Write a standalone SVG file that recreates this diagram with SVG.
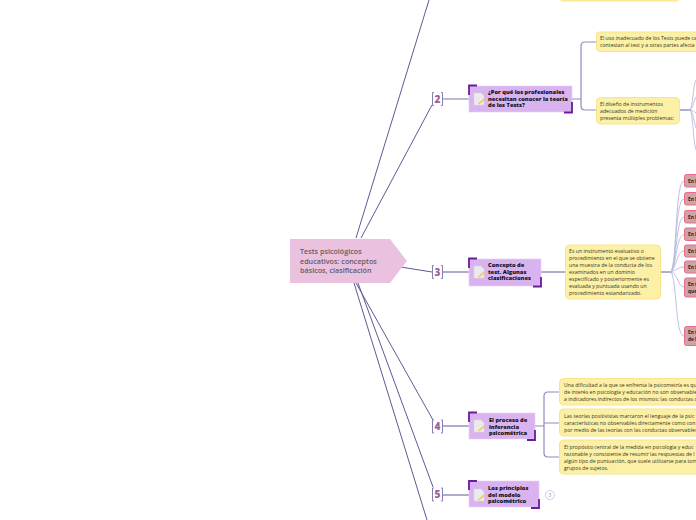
<svg xmlns="http://www.w3.org/2000/svg" width="696" height="520" viewBox="0 0 696 520">
<defs>
<g id="ic"><path d="M0 0H7L10 3V12H0Z" fill="#ece9ec" stroke="#dcd8dc" stroke-width=".5"/><path d="M4 10.500L10 5.500L11 6.500L5 11.500Z" fill="#f2c84a"/></g>
</defs>
<style>
text{font-family:"Open Sans","Noto Sans",sans-serif;white-space:pre}
.n{font-size:5.200px;font-weight:500;fill:#3a3622}
.b{font-size:5.700px;font-weight:800;fill:#111}
.t{fill:#d9b3f0;stroke:#e6cdf6;stroke-width:.6}
.k{fill:none;stroke:#6a1b9a;stroke-width:1.800}
.y{fill:#fbf0a6;stroke:#f8e48c;stroke-width:1}
.p{fill:#cfa3a3;stroke:#e8688c;stroke-width:1}
.pt{font-size:4.800px;font-weight:700;fill:#2a1a1a}
.m{fill:none;stroke:#5d5a96;stroke-width:1}
.c{fill:none;stroke:#8d8bbd;stroke-width:1.200}
.f{fill:none;stroke:#b9b9dc;stroke-width:.9}
.br{fill:none;stroke:#857fae;stroke-width:1}
.num{font-size:10px;font-weight:800;fill:#a0609c;text-anchor:middle}
</style>
<g id="connectors">
<path class="m" d="M356 238L429 0M361 238L432 105M369 262L432 272M356 283L433 420M358 283L433 487M354 283L427 520"/>
<path class="c" d="M443 99H469"/>
<path class="m" d="M443 272H469M443 426H469M442 495H469"/>
<path class="c" d="M572 99H581M596 42H585Q581 42 581 46V106Q581 110 585 110H596"/>
<path class="m" stroke-width="1.300" d="M541 272H565"/>
<path class="c" d="M535 426H544M559 392H548Q544 392 544 396V453Q544 457 548 457H559M544 423H559"/>
<path class="m" stroke-width="1.300" d="M660 272H671M680 110H690"/>
<path class="f" d="M671 272C677 262 675 181 684 181M671 272C677 262 675 199 684 199M671 272C677 262 676 217 684 217M671 272C677 264 676 235 684 235M671 272C677 266 677 251 684 251M671 272C677 270 678 267 684 267M671 272C678 274 678 287 684 287M671 272C677 280 675 336 684 336"/>
<path class="f" d="M690 110C693 106 693 85 696 80M690 110C693 108 694 100 696 97M690 110C693 110 694 112 696 113M690 110C693 112 694 122 696 128M690 110C693 114 693 140 696 150"/>
<path class="br" d="M550 495H546"/>
</g>
<g id="root"><polygon points="290,239 390,239 407,261 390,283 290,283" fill="#eac2e0"/>
<text x="300" y="254" font-size="7.200" font-weight="600" fill="#665a62">Tests psicológicos</text>
<text x="300" y="263.500" font-size="7.200" font-weight="600" fill="#665a62">educativos: conceptos</text>
<text x="300" y="273" font-size="7.200" font-weight="600" fill="#665a62">básicos, clasificación</text></g>
<g id="num2"><path class="br" d="M434 92.500H432.500V105.500H434M441 92.500H442.500V105.500H441"/><text class="num" x="437.500" y="102.500">2</text></g>
<g id="num3"><path class="br" d="M434 265.500H432.500V278.500H434M441 265.500H442.500V278.500H441"/><text class="num" x="437.500" y="275.500">3</text></g>
<g id="num4"><path class="br" d="M434 420H432.500V433H434M441 420H442.500V433H441"/><text class="num" x="437.500" y="430">4</text></g>
<g id="num5"><path class="br" d="M434 488H432.500V501H434M441 488H442.500V501H441"/><text class="num" x="437.500" y="498">5</text></g>
<g id="node2"><rect class="t" x="469" y="86" width="103" height="26"/><path class="k" d="M469 95V85.500H477M572 102V112.500H564"/><use href="#ic" x="474" y="93"/>
<text class="b" x="488" y="94">¿Por qué los profesionales</text><text class="b" x="488" y="100.500">necesitan conocer la teoría</text><text class="b" x="488" y="107">de los Tests?</text></g>
<g id="node3"><rect class="t" x="469" y="259" width="72" height="27"/><path class="k" d="M469 268V258.500H477M541 277V286.500H533"/><use href="#ic" x="474" y="266"/>
<text class="b" x="488" y="267">Concepto de</text><text class="b" x="488" y="273.500">test. Algunas</text><text class="b" x="488" y="280">clasificaciones</text></g>
<g id="node4"><rect class="t" x="469" y="413" width="66" height="26"/><path class="k" d="M469 422V412.500H477M535 430V440H527"/><use href="#ic" x="474" y="420"/>
<text class="b" x="489" y="422">El proceso de</text><text class="b" x="489" y="428.500">inferencia</text><text class="b" x="489" y="435">psicométrica</text></g>
<g id="node5"><rect class="t" x="469" y="481" width="70" height="26"/><path class="k" d="M469 490V481H477M539 499V508H531"/><use href="#ic" x="474" y="489"/>
<text class="b" x="488" y="490">Los principios</text><text class="b" x="488" y="496.500">del modelo</text><text class="b" x="488" y="503">psicométrico</text></g>
<g id="collapse"><circle cx="550" cy="495" r="4.500" fill="#fff" stroke="#c3c3e0" stroke-width=".8"/><text x="550" y="497" font-size="5" text-anchor="middle" fill="#8d8bbd">3</text></g>
<g id="noteTop"><rect class="y" x="560" y="-20" width="119" height="21" rx="3"/></g>
<g id="note2a"><rect class="y" x="596.500" y="32" width="120" height="19.500" rx="3"/>
<text class="n" x="600" y="39.500">El uso inadecuado de los Tests puede ca</text><text class="n" x="600" y="46.500">contestan al test y a otras partes afecta</text></g>
<g id="note2b"><rect class="y" x="596.500" y="97.500" width="83" height="26.500" rx="4"/>
<text class="n" x="600" y="105.500">El diseño de instrumentos</text><text class="n" x="600" y="112.500">adecuados de medición</text><text class="n" x="600" y="119.500">presenta múltiples problemas:</text></g>
<g id="note3"><rect class="y" x="565.500" y="245" width="95" height="54" rx="4"/>
<text class="n" x="569" y="253">Es un instrumento evaluativo o</text><text class="n" x="569" y="260">procedimiento en el que se obtiene</text><text class="n" x="569" y="267">una muestra de la conducta de los</text><text class="n" x="569" y="274">examinados en un dominio</text><text class="n" x="569" y="281">especificado y posteriormente es</text><text class="n" x="569" y="288">evaluada y puntuada usando un</text><text class="n" x="569" y="295">procedimiento estandarizado.</text></g>
<g id="note4a"><rect class="y" x="559.500" y="378.500" width="160" height="26.500" rx="4"/>
<text class="n" x="564" y="387">Una dificultad a la que se enfrenta la psicometría es qu</text><text class="n" x="564" y="394">de interés en psicología y educación no son observable</text><text class="n" x="564" y="401">a indicadores indirectos de los mismos: las conductas o</text></g>
<g id="note4b"><rect class="y" x="559.500" y="409" width="160" height="27" rx="4"/>
<text class="n" x="564" y="417.500">Las teorías positivistas marcaron el lenguaje de la psic</text><text class="n" x="564" y="424.500">características no observables directamente como con</text><text class="n" x="564" y="431.500">por medio de las teorías con las conductas observables</text></g>
<g id="note4c"><rect class="y" x="559.500" y="440" width="160" height="34" rx="4"/>
<text class="n" x="564" y="448.500">El propósito central de la medida en psicología y educ</text><text class="n" x="564" y="455.500">razonable y consistente de resumir las respuestas de l</text><text class="n" x="564" y="462.500">algún tipo de puntuación, que suele utilizarse para tom</text><text class="n" x="564" y="469.500">grupos de sujetos.</text></g>
<g id="pink1"><rect class="p" x="684.500" y="174.500" width="30" height="12.500" rx="2"/><text class="pt" x="688" y="182.500">En B</text></g>
<g id="pink2"><rect class="p" x="684.500" y="192.500" width="30" height="12.500" rx="2"/><text class="pt" x="688" y="200.500">En B</text></g>
<g id="pink3"><rect class="p" x="684.500" y="210.500" width="30" height="12.500" rx="2"/><text class="pt" x="688" y="218.500">En B</text></g>
<g id="pink4"><rect class="p" x="684.500" y="228" width="30" height="12.500" rx="2"/><text class="pt" x="688" y="236">En B</text></g>
<g id="pink5"><rect class="p" x="684.500" y="245" width="30" height="12" rx="2"/><text class="pt" x="688" y="252.500">En B</text></g>
<g id="pink6"><rect class="p" x="684.500" y="261" width="30" height="12" rx="2"/><text class="pt" x="688" y="268.500">En B</text></g>
<g id="pink7"><rect class="p" x="684.500" y="278" width="30" height="19" rx="2"/><text class="pt" x="688" y="285.500">En t</text><text class="pt" x="688" y="292.500">que</text></g>
<g id="pink8"><rect class="p" x="684.500" y="326.500" width="30" height="19" rx="2"/><text class="pt" x="688" y="334">En t</text><text class="pt" x="688" y="341">de l</text></g>
</svg>
